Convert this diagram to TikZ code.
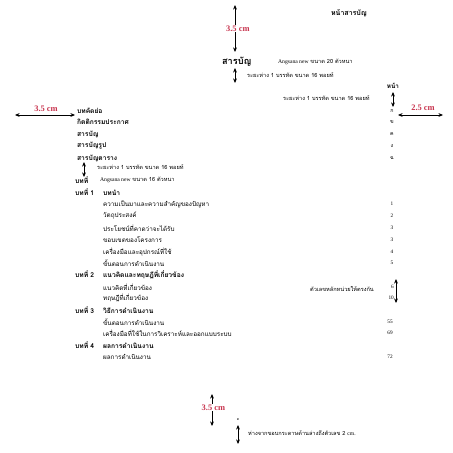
\documentclass[tikz,border=0pt]{standalone}
\usepackage{fontspec}
\setmainfont{Liberation Serif}
\newfontfamily\thaifont[Script=Thai]{Loma}
\usepackage{xcolor}
\usetikzlibrary{arrows.meta, positioning}
\definecolor{cmred}{HTML}{C8354F}
\newcommand{\chapno}[1]{\makebox[1.4cm][l]{#1}}

\begin{document}
\begin{tikzpicture}[x=0.05cm, y=-0.05cm,
    txt/.style={anchor=west, inner sep=0pt, font=\thaifont\fontsize{9}{10}\selectfont},
    hd/.style={anchor=west, inner sep=0pt, font=\thaifont\bfseries\fontsize{9.5}{10}\selectfont},
    pg/.style={inner sep=0pt, font=\thaifont\fontsize{7.5}{8}\selectfont},
    note/.style={anchor=west, inner sep=0pt, font=\thaifont\fontsize{8}{9}\selectfont},
    cmlbl/.style={inner sep=1pt, text=cmred, font=\bfseries\fontsize{12}{13}\selectfont},
    dimarrow/.style={{Stealth[length=6.5pt,width=5.5pt]}-{Stealth[length=6.5pt,width=5.5pt]}, line width=0.9pt}]
  \useasboundingbox (0,0) rectangle (453,453);

  % top margin
  \coordinate (tTop) at (235,5);
  \coordinate (tBot) at (235,52);
  \draw[dimarrow] (tTop) -- node[cmlbl, fill=white, xshift=4pt] (tLbl) {3.5 cm} (tBot);
  \node[inner sep=0pt, font=\thaifont\bfseries\fontsize{10}{11}\selectfont] (pgname) at (349,13) {หน้าสารบัญ};

  % heading
  \node[anchor=west, inner sep=0pt, font=\thaifont\bfseries\fontsize{13}{14}\selectfont] (title) at (222,62) {สารบัญ};
  \node[note] (titleNote) at (278,62) {{\rmfamily Angsana new} ขนาด 20 ตัวหนา};
  \coordinate (g1a) at (235,68);
  \coordinate (g1b) at (235,83);
  \draw[dimarrow] (g1a) -- (g1b);
  \node[note] (g1Note) at (247,75) {ระยะห่าง 1 บรรทัด ขนาด 16 พอยท์};

  \node[inner sep=0pt, font=\thaifont\bfseries\fontsize{9}{10}\selectfont] (pgHead) at (393,86) {หน้า};
  \coordinate (g2a) at (393,92);
  \coordinate (g2b) at (393,107);
  \draw[dimarrow] (g2a) -- (g2b);
  \node[note] (g2Note) at (283,98) {ระยะห่าง 1 บรรทัด ขนาด 16 พอยท์};

  % side margins
  \coordinate (lA) at (15,115);
  \coordinate (lB) at (75,115);
  \draw[dimarrow] (lA) -- (lB);
  \node[cmlbl] (lLbl) at (46,109) {3.5 cm};
  \coordinate (rA) at (398,115);
  \coordinate (rB) at (443,115);
  \draw[dimarrow] (rA) -- (rB);
  \node[cmlbl] (rLbl) at (423,108) {2.5 cm};

  % front matter
  \node[hd] (abs) at (77,111) {บทคัดย่อ};
  \node[hd] (ack) at (77,122) {กิตติกรรมประกาศ};
  \node[hd] (toc) at (77,134) {สารบัญ};
  \node[hd] (lof) at (77,146) {สารบัญรูป};
  \node[hd] (lot) at (77,158) {สารบัญตาราง};
  \node[pg] (pAbs) at (392,111) {ก};
  \node[pg] (pAck) at (392,122) {ข};
  \node[pg] (pToc) at (392,134) {ค};
  \node[pg] (pLof) at (392,146) {ง};
  \node[pg] (pLot) at (392,158) {ฉ};
  \coordinate (g3a) at (84,162);
  \coordinate (g3b) at (84,177);
  \draw[dimarrow] (g3a) -- (g3b);
  \node[note] (g3Note) at (97,167) {ระยะห่าง 1 บรรทัด ขนาด 16 พอยท์};

  % chapters
  \node[hd] (chap) at (75,180) {บทที่};
  \node[note] (chapNote) at (100,180) {{\rmfamily Angsana new} ขนาด 16 ตัวหนา};

  \node[hd] (ch1) at (75,192) {\chapno{บทที่ 1}บทนำ};
  \node[txt] (s11) at (103,204) {ความเป็นมาและความสำคัญของปัญหา};
  \node[txt] (s12) at (103,216) {วัตถุประสงค์};
  \node[txt] (s13) at (103,228) {ประโยชน์ที่คาดว่าจะได้รับ};
  \node[txt] (s14) at (103,240) {ขอบเขตของโครงการ};
  \node[txt] (s15) at (103,252) {เครื่องมือและอุปกรณ์ที่ใช้};
  \node[txt] (s16) at (103,263) {ขั้นตอนการดำเนินงาน};
  \node[pg] (p11) at (392,204) {\rmfamily 1};
  \node[pg] (p12) at (392,216) {\rmfamily 2};
  \node[pg] (p13) at (392,228) {\rmfamily 3};
  \node[pg] (p14) at (392,240) {\rmfamily 3};
  \node[pg] (p15) at (392,252) {\rmfamily 4};
  \node[pg] (p16) at (392,263) {\rmfamily 5};

  \node[hd] (ch2) at (75,275) {\chapno{บทที่ 2}แนวคิดและทฤษฎีที่เกี่ยวข้อง};
  \node[txt] (s21) at (103,287) {แนวคิดที่เกี่ยวข้อง};
  \node[txt] (s22) at (103,298) {ทฤษฎีที่เกี่ยวข้อง};
  \node[pg, anchor=east] (p21) at (394,287) {\rmfamily 6};
  \node[pg, anchor=east] (p22) at (394,298) {\rmfamily 10};
  \coordinate (g4a) at (396,279);
  \coordinate (g4b) at (396,303);
  \draw[dimarrow] (g4a) -- (g4b);
  \node[note] (g4Note) at (310,289) {ตัวเลขหลักหน่วยให้ตรงกัน};

  \node[hd] (ch3) at (75,310) {\chapno{บทที่ 3}วิธีการดำเนินงาน};
  \node[txt] (s31) at (103,322) {ขั้นตอนการดำเนินงาน};
  \node[txt] (s32) at (103,333) {เครื่องมือที่ใช้ในการวิเคราะห์และออกแบบระบบ};
  \node[pg] (p31) at (390,322) {\rmfamily 55};
  \node[pg] (p32) at (390,333) {\rmfamily 69};

  \node[hd] (ch4) at (75,345) {\chapno{บทที่ 4}ผลการดำเนินงาน};
  \node[txt] (s41) at (103,357) {ผลการดำเนินงาน};
  \node[pg] (p41) at (390,357) {\rmfamily 72};

  % bottom margin
  \coordinate (bTop) at (212,394);
  \coordinate (bBot) at (212,426);
  \draw[dimarrow] (bTop) -- node[cmlbl, fill=white, pos=0.42, xshift=2pt] (bLbl) {3.5 cm} (bBot);
  \node[pg, font=\thaifont\fontsize{5}{6}\selectfont] (pNum) at (238,420) {ค};
  \coordinate (g5a) at (238,425);
  \coordinate (g5b) at (238,444);
  \draw[dimarrow] (g5a) -- (g5b);
  \node[note] (g5Note) at (248,433) {ห่างจากขอบกระดาษด้านล่างถึงตัวเลข 2 {\rmfamily cm.}};
\end{tikzpicture}
\end{document}
